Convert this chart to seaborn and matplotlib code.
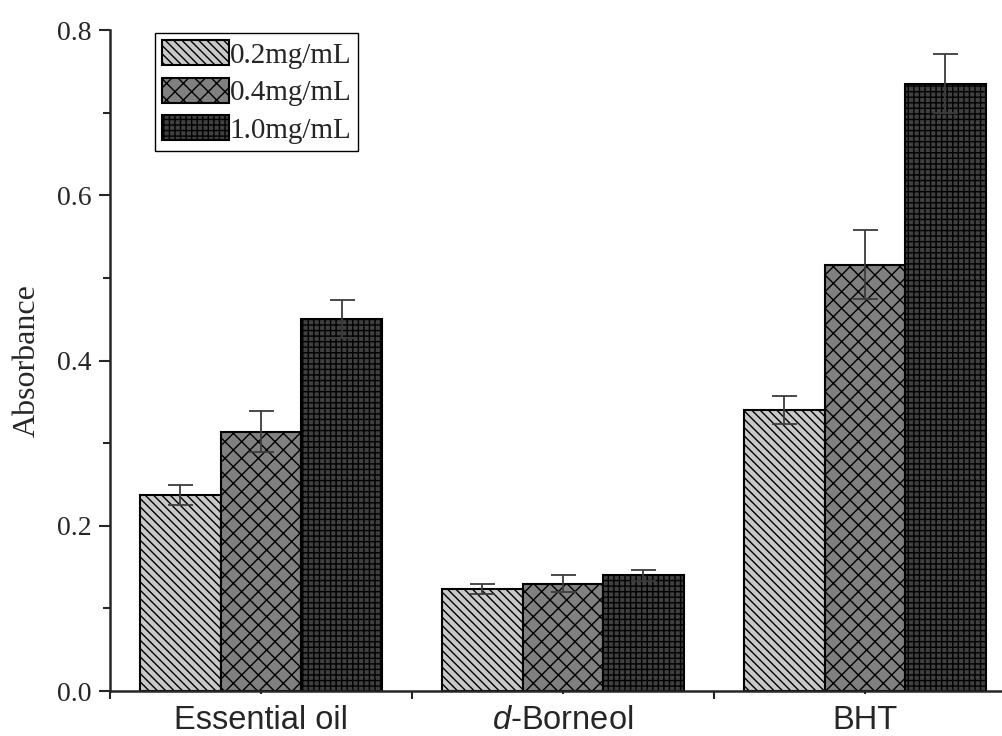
import matplotlib
matplotlib.use("Agg")

import numpy as np
import pandas as pd
import matplotlib.pyplot as plt
from matplotlib.ticker import MultipleLocator, FixedLocator
import seaborn as sns

# ---------------------------------------------------------------
# data
# ---------------------------------------------------------------
samples = ["Essential oil", "$\\it{d}$-Borneol", "BHT"]
concs = ["0.2mg/mL", "0.4mg/mL", "1.0mg/mL"]

abs_02 = [0.237, 0.124, 0.340]
abs_04 = [0.314, 0.130, 0.516]
abs_10 = [0.450, 0.140, 0.735]

err_02 = [0.012, 0.006, 0.017]
err_04 = [0.025, 0.010, 0.042]
err_10 = [0.023, 0.007, 0.036]

bar_colors = ["#c8c8c8", "#808080", "#404040"]
hatches = ["\\\\\\\\", "xx", "+++"]

df = pd.DataFrame({
    "sample": samples * 3,
    "conc": [c for c in concs for _ in samples],
    "absorbance": abs_02 + abs_04 + abs_10,
})
errs = [err_02, err_04, err_10]

# ---------------------------------------------------------------
# style
# ---------------------------------------------------------------
sns.set_style("ticks")
plt.rcParams["font.family"] = ["Liberation Serif", "DejaVu Serif"]
plt.rcParams["mathtext.fontset"] = "custom"
plt.rcParams["mathtext.it"] = "Liberation Sans:italic"
plt.rcParams["mathtext.rm"] = "Liberation Sans"
plt.rcParams["hatch.linewidth"] = 1.0

fig = plt.figure(figsize=(10.02, 7.36), dpi=100)
ax = fig.add_axes([0.1098, 0.0611, 0.8902, 0.8981])

sns.barplot(data=df, x="sample", y="absorbance", hue="conc",
            palette=bar_colors, edgecolor="black", linewidth=1.5,
            errorbar=None, width=0.8, ax=ax)

bar_conts = list(ax.containers)
for cont, hatch, err in zip(bar_conts, hatches, errs):
    xs, ys = [], []
    for bar in cont:
        bar.set_hatch(hatch)
        bar.set_edgecolor("black")
        xs.append(bar.get_x() + bar.get_width() / 2)
        ys.append(bar.get_height())
    ax.errorbar(xs, ys, yerr=err, fmt="none", ecolor="#3c3c3c",
                elinewidth=1.3, capsize=9, capthick=1.3, zorder=5)

# legend
handles = [cont.patches[0] for cont in bar_conts]
ax.legend(handles, concs, loc="upper left",
          bbox_to_anchor=(0.1547, 0.9552), bbox_transform=fig.transFigure,
          prop={"family": "Liberation Serif", "size": 21},
          handlelength=2.3, handleheight=0.95, handletextpad=0.0,
          labelspacing=0.3, borderpad=0.25, borderaxespad=0.0,
          frameon=True, fancybox=False, framealpha=1, edgecolor="black")
ax.get_legend().get_frame().set_linewidth(1.0)

# axes
ax.set_xlim(-0.5, 2.454)
ax.set_ylim(0, 0.8)
ax.yaxis.set_major_locator(MultipleLocator(0.2))
ax.yaxis.set_minor_locator(MultipleLocator(0.1))
ax.set_yticklabels([f"{v:.1f}" for v in ax.get_yticks()], fontsize=20)
ax.xaxis.set_minor_locator(FixedLocator([-0.5, 0.5, 1.5, 2.5]))
ax.set_xticks(range(len(samples)))
ax.set_xticklabels(samples, fontsize=23.5, family="Liberation Sans")

ax.tick_params(axis="y", which="major", direction="out", length=8, width=1.5, pad=5)
ax.tick_params(axis="y", which="minor", direction="out", length=5, width=1.5)
ax.tick_params(axis="x", which="major", direction="out", length=2, width=1.5, pad=8)
ax.tick_params(axis="x", which="minor", direction="out", length=6, width=1.5)

ax.set_xlabel("")
ax.set_ylabel("Absorbance", fontsize=23)
ax.yaxis.set_label_coords(-0.077, 0.5)

sns.despine(ax=ax)
for side in ["left", "bottom"]:
    ax.spines[side].set_linewidth(1.8)

fig.savefig("out.png", dpi=100)
